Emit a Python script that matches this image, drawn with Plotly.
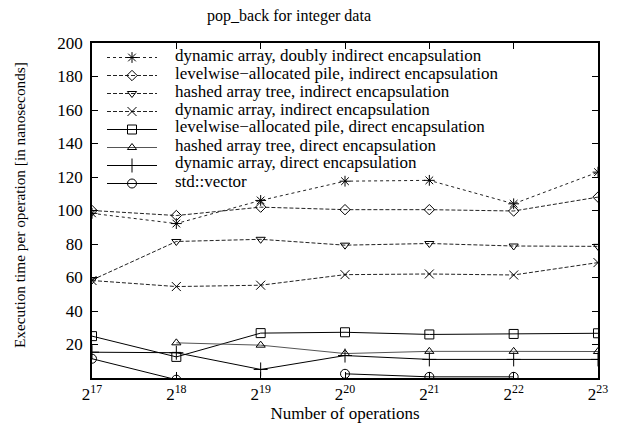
import plotly.graph_objects as go
import math

exponents = [17, 18, 19, 20, 21, 22, 23]
ops = [2 ** e for e in exponents]
tick_labels = ["2<sup>%d</sup>" % e for e in exponents]

names = [
    "dynamic array, doubly indirect encapsulation",
    "levelwise\u2212allocated pile, indirect encapsulation",
    "hashed array tree, indirect encapsulation",
    "dynamic array, indirect encapsulation",
    "levelwise\u2212allocated pile, direct encapsulation",
    "hashed array tree, direct encapsulation",
    "dynamic array, direct encapsulation",
    "std::vector",
]

dyn_doubly_indirect = [98.3, 92.2, 106.0, 117.5, 118.0, 104.0, 122.9]
pile_indirect = [100.0, 97.0, 102.0, 100.5, 100.5, 99.7, 108.0]
hat_indirect = [58.5, 81.5, 82.8, 79.3, 80.3, 78.8, 78.6]
dyn_indirect = [58.2, 54.6, 55.4, 61.7, 62.1, 61.5, 68.9]
pile_direct = [25.0, 12.6, 26.8, 27.3, 26.0, 26.3, 26.7]
hat_direct = [None, 21.0, 19.6, 14.6, 15.9, 15.9, 15.8]
dyn_direct = [15.4, 15.1, 5.1, 13.4, 11.1, 11.1, 11.1]
std_vector = [11.5, -1.0, None, 2.5, 0.7, 0.7, None]

series = [dyn_doubly_indirect, pile_indirect, hat_indirect, dyn_indirect,
          pile_direct, hat_direct, dyn_direct, std_vector]
symbols = ["asterisk-open", "diamond-open", "triangle-down-open", "x-thin-open",
           "square-open", "triangle-up-open", "cross-thin-open", "circle-open"]
dashes = ["dot", "4px,2px", "4px,2px", "4px,2px", "solid", "solid", "solid", "solid"]
colors = ["#222", "#222", "#222", "#222", "#000", "#555", "#000", "#000"]
sizes = [9, 8, 8, 9, 9, 8, 10, 9]

font = "Liberation Serif, Times New Roman, serif"

# plot area geometry (pixels)
W, H = 627, 432
ML, MR, MT, MB = 92, 29, 43, 54
PW, PH = W - ML - MR, H - MT - MB
ROW = 18  # legend row pitch in pixels

fig = go.Figure()
for i, (name, vals, sym, dash, col, sz) in enumerate(
        zip(names, series, symbols, dashes, colors, sizes)):
    fig.add_trace(go.Scatter(
        x=ops, y=vals, name=name, mode="lines+markers",
        line=dict(color=col, width=1, dash=dash),
        marker=dict(symbol=sym, size=sz, color="black",
                    line=dict(color="black", width=1)),
        cliponaxis=True,
        legend="legend" if i % 2 == 0 else "legend2",
        legendgroup="g%d" % i,
    ))

# legend text drawn as annotations so that the rows can sit close together
row_first, text_x = 55, 173
annotations = []
for i, name in enumerate(names):
    yc = row_first + i * ROW
    annotations.append(dict(
        text=name, xref="paper", yref="paper",
        x=(text_x - ML) / PW, y=1 - (yc - MT) / PH,
        xanchor="left", yanchor="middle", showarrow=False,
        font=dict(family=font, size=17, color="black"),
    ))

# y-axis title
annotations.append(dict(
    text="Execution time per operation [in nanoseconds]",
    xref="paper", yref="paper", x=(19 - ML) / PW, y=1 - (205 - MT) / PH,
    xanchor="center", yanchor="middle", textangle=-90, showarrow=False,
    font=dict(family=font, size=15.3, color="black"),
))

legend_style = dict(xanchor="left", yanchor="top", x=(102 - ML) / PW,
                    bgcolor="rgba(0,0,0,0)",
                    font=dict(size=1, color="rgba(0,0,0,0)"),
                    tracegroupgap=2 * ROW - 19, itemwidth=50)

fig.update_layout(
    width=W, height=H,
    paper_bgcolor="white", plot_bgcolor="white",
    margin=dict(l=ML, r=MR, t=MT, b=MB, autoexpand=False),
    font=dict(family=font, size=17, color="black"),
    title=dict(text="pop_back for integer data", x=0.461, xanchor="center",
               y=0.965, yanchor="middle", font=dict(size=16)),
    showlegend=True,
    legend=dict(y=1.0, **legend_style),
    legend2=dict(y=1 - ROW / PH, **legend_style),
    annotations=annotations,
)
fig.update_xaxes(
    type="log", range=[17 * math.log10(2), 23 * math.log10(2)],
    tickvals=ops, ticktext=tick_labels, tickfont=dict(size=17),
    ticks="inside", ticklen=6, tickcolor="black", mirror="ticks",
    showline=True, linecolor="black", linewidth=1.5, showgrid=False, zeroline=False,
    title=dict(text="Number of operations", font=dict(size=17), standoff=4),
)
fig.update_yaxes(
    range=[0, 200], tickvals=[20, 40, 60, 80, 100, 120, 140, 160, 180, 200],
    tickfont=dict(size=17), ticklabelstandoff=4,
    ticks="inside", ticklen=6, tickcolor="black", mirror="ticks",
    showline=True, linecolor="black", linewidth=1.5, showgrid=False, zeroline=False,
)
fig.write_html("out.html", config={"displayModeBar": False},
               post_script="document.body.style.margin='0px';")
